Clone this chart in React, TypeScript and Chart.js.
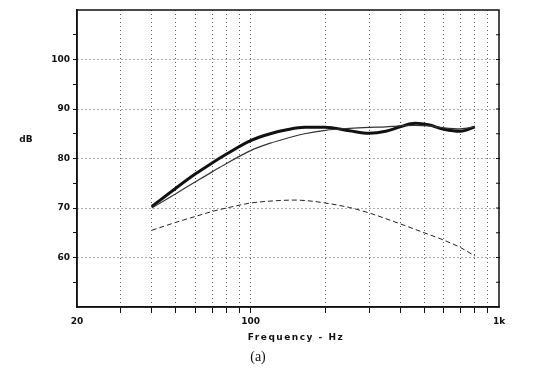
import React, { useEffect, useRef } from 'react';
import { Chart, registerables } from 'chart.js';

Chart.register(...registerables);

// Thick curve (Hz, dB)
const thickFreq = [40, 50, 60, 70, 80, 100, 120, 140, 165, 200, 250, 300, 350, 400, 460, 520, 600, 700, 800];
const thickDb = [70.3, 74.0, 76.9, 79.1, 80.9, 83.6, 85.0, 85.8, 86.3, 86.3, 85.6, 85.1, 85.5, 86.4, 87.1, 86.8, 85.9, 85.5, 86.4];

// Thin curve (Hz, dB)
const thinFreq = [40, 50, 60, 70, 80, 100, 120, 140, 165, 200, 250, 300, 350, 400, 460, 520, 600, 700, 800];
const thinDb = [70.0, 72.9, 75.3, 77.3, 79.0, 81.6, 83.1, 84.1, 85.0, 85.7, 86.1, 86.3, 86.4, 86.6, 86.7, 86.6, 86.2, 86.0, 86.4];

// Dashed curve (Hz, dB)
const dashFreq = [40, 50, 60, 70, 80, 100, 130, 150, 175, 200, 250, 300, 400, 500, 600, 700, 800];
const dashDb = [65.5, 67.1, 68.3, 69.3, 70.0, 71.0, 71.5, 71.6, 71.4, 71.0, 70.1, 69.0, 66.8, 65.0, 63.5, 62.0, 60.3];

const xTicks = [20, 30, 40, 50, 60, 70, 80, 90, 100, 200, 300, 400, 500, 600, 700, 800, 900, 1000];
const xTickLabels: Record<number, string> = { 20: '20', 100: '100', 1000: '1k' };
const yMin = 50;
const yMax = 110;
const yLabeled = [60, 70, 80, 90, 100];
const xTitle = 'Frequency - Hz';
const yTitle = 'dB';
const caption = '(a)';

export default function App() {
  const ref = useRef<HTMLCanvasElement>(null);

  useEffect(() => {
    if (!ref.current) return;
    const toPts = (f: number[], d: number[]) => f.map((x, i) => ({ x, y: d[i] }));

    const framePlugin = {
      id: 'frame',
      afterDraw(chart: any) {
        const { ctx, chartArea: a, scales } = chart;
        ctx.save();
        ctx.strokeStyle = '#111';
        ctx.lineWidth = 1.5;
        ctx.strokeRect(a.left, a.top, a.right - a.left, a.bottom - a.top);
        ctx.lineWidth = 1;
        for (let v = yMin + 5; v < yMax; v += 5) {
          const y = scales.y.getPixelForValue(v);
          ctx.beginPath();
          ctx.moveTo(a.right - 3, y);
          ctx.lineTo(a.right + 1, y);
          ctx.stroke();
        }
        ctx.fillStyle = '#111';
        ctx.textAlign = 'center';
        ctx.textBaseline = 'middle';
        ctx.font = 'bold 9px "DejaVu Sans"';
        (ctx as any).letterSpacing = '1.5px';
        ctx.fillText(xTitle, 296, 338);
        (ctx as any).letterSpacing = '0px';
        ctx.font = 'bold 9px "DejaVu Sans"';
        ctx.fillText(yTitle, 26, 140);
        ctx.font = '14px "Liberation Serif"';
        ctx.fillText(caption, 258, 357);
        ctx.restore();
      },
    };

    const chart = new Chart(ref.current, {
      type: 'line',
      data: {
        datasets: [
          {
            data: toPts(dashFreq, dashDb),
            borderColor: '#222',
            borderWidth: 1,
            borderDash: [5, 3],
            pointRadius: 0,
            cubicInterpolationMode: 'monotone',
          },
          {
            data: toPts(thinFreq, thinDb),
            borderColor: '#333',
            borderWidth: 1.2,
            pointRadius: 0,
            cubicInterpolationMode: 'monotone',
          },
          {
            data: toPts(thickFreq, thickDb),
            borderColor: '#111',
            borderWidth: 3,
            pointRadius: 0,
            cubicInterpolationMode: 'monotone',
          },
        ],
      },
      options: {
        animation: false,
        responsive: true,
        maintainAspectRatio: false,
        layout: { padding: { left: 0, right: 42, top: 10, bottom: 0 } },
        plugins: { legend: { display: false }, tooltip: { enabled: false } },
        scales: {
          x: {
            type: 'logarithmic',
            min: 20,
            max: 1000,
            afterBuildTicks: (scale: any) => {
              scale.ticks = xTicks.map((v) => ({ value: v }));
            },
            afterFit: (scale: any) => {
              scale.height = 66;
            },
            ticks: {
              autoSkip: false,
              maxRotation: 0,
              padding: 3,
              color: '#111',
              font: { family: 'DejaVu Sans', size: 9, weight: 'bold' },
              callback: (v: any) => xTickLabels[Number(v)] ?? '',
            },
            grid: {
              color: (c: any) => {
                const v = c.tick?.value;
                return v === 20 || v === 1000 ? 'transparent' : '#555';
              },
              lineWidth: 1,
              tickLength: 6,
              tickColor: (c: any) => {
                const v = c.tick?.value;
                return v === 20 || v === 1000 ? 'transparent' : '#111';
              },
              tickBorderDash: [],
            },
            border: { display: true, color: '#111', width: 1.5, dash: [1, 3] },
          },
          y: {
            type: 'linear',
            min: yMin,
            max: yMax,
            afterFit: (scale: any) => {
              scale.width = 77;
            },
            ticks: {
              stepSize: 5,
              padding: 3,
              color: '#111',
              font: { family: 'DejaVu Sans', size: 9, weight: 'bold' },
              callback: (v: any) => (yLabeled.includes(Number(v)) ? String(v) : ''),
            },
            grid: {
              color: (c: any) => (yLabeled.includes(c.tick?.value) ? '#555' : 'transparent'),
              lineWidth: 1,
              tickLength: 4,
              tickColor: (c: any) => {
                const v = c.tick?.value;
                return v === yMin || v === yMax ? 'transparent' : '#111';
              },
              tickBorderDash: [],
            },
            border: { display: true, color: '#111', width: 1.5, dash: [1, 3] },
          },
        },
      } as any,
      plugins: [framePlugin],
    });
    return () => chart.destroy();
  }, []);

  return (
    <div style={{ position: 'absolute', left: 0, top: 0, width: 541, height: 373, background: '#fff' }}>
      <canvas ref={ref} />
    </div>
  );
}
